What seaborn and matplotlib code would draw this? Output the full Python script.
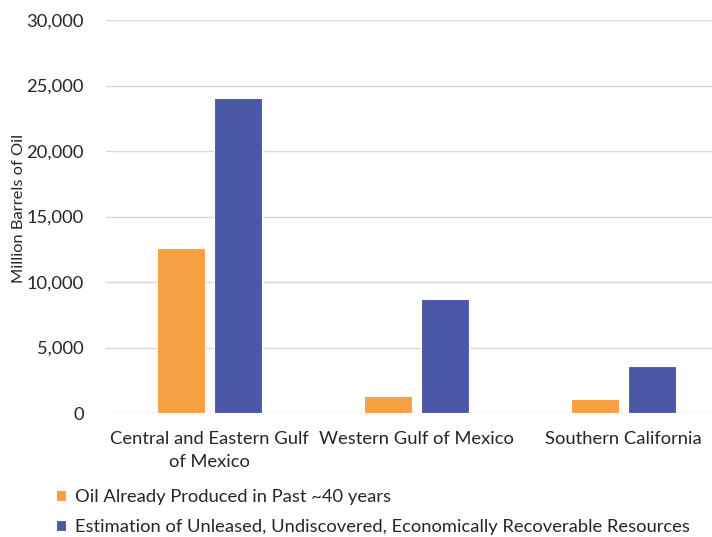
import pandas as pd
import seaborn as sns
import matplotlib.pyplot as plt
from matplotlib.ticker import FuncFormatter

regions = ["Central and Eastern Gulf\nof Mexico", "Western Gulf of Mexico", "Southern California"]
series = [
    "Oil Already Produced in Past ~40 years",
    "Estimation of Unleased, Undiscovered, Economically Recoverable Resources",
]
produced = [12600, 1300, 1050]
undiscovered = [24050, 8680, 3600]
colors = ["#F79F43", "#4B58A6"]

df = pd.DataFrame({
    "region": regions * 2,
    "series": [series[0]] * 3 + [series[1]] * 3,
    "value": produced + undiscovered,
})

sns.set_theme(style="white")
plt.rcParams["font.family"] = ["Lato", "DejaVu Sans"]

fig = plt.figure(figsize=(7.12, 5.37), dpi=100)
ax = fig.add_axes([106 / 712, 1 - 413 / 537, 621 / 712, 393 / 537])

sns.barplot(df, x="region", y="value", hue="series", palette=colors, saturation=1,
            width=0.55, gap=0.17, edgecolor="white", linewidth=0.8, ax=ax)

ax.set_ylim(0, 30000)
ax.set_yticks(range(0, 30001, 5000))
ax.yaxis.set_major_formatter(FuncFormatter(lambda v, p: f"{int(v):,}"))
ax.grid(axis="y", color="#d9d9d9", linewidth=1)
ax.set_axisbelow(True)
for s in ax.spines.values():
    s.set_visible(False)
ax.tick_params(axis="y", labelsize=13.2, colors="#262626", pad=16, length=0)
ax.tick_params(axis="x", labelsize=13.2, colors="#262626", pad=13, length=0)
for t in ax.get_xticklabels():
    t.set_linespacing(1.55)
ax.set_xlabel("")
ax.set_ylabel("Million Barrels of Oil", fontsize=11.8, color="#262626")
ax.yaxis.set_label_coords(-80 / 621, 0.52)

leg = ax.legend(loc="upper left", bbox_to_anchor=(49 / 712, 1 - 482 / 537),
                bbox_transform=fig.transFigure, frameon=False, fontsize=13.2,
                handlelength=0.55, handleheight=0.55, handletextpad=0.45,
                labelspacing=0.75, borderaxespad=0)
for t in leg.get_texts():
    t.set_color("#262626")

fig.savefig("out.png", dpi=100)
